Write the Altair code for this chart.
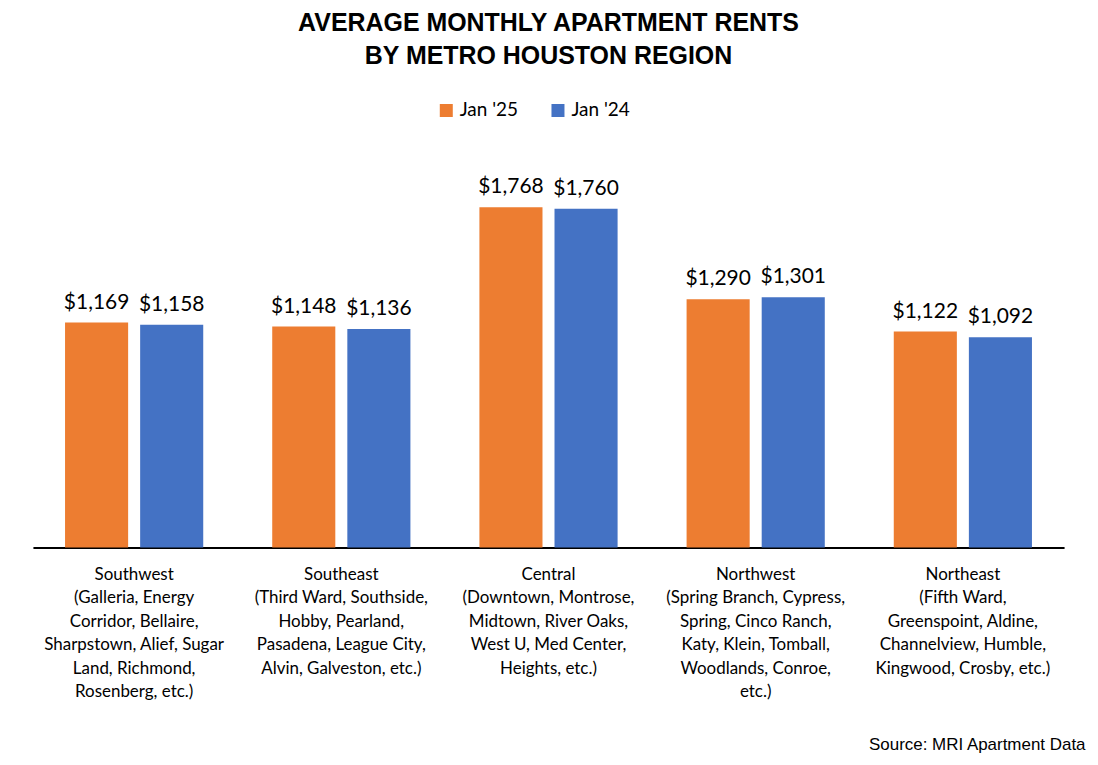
import altair as alt
import pandas as pd

# Order as it appears in the reference, left to right
region_labels = [
    "Southwest|(Galleria, Energy|Corridor, Bellaire,|Sharpstown, Alief, Sugar|Land, Richmond,|Rosenberg, etc.)",
    "Southeast|(Third Ward, Southside,|Hobby, Pearland,|Pasadena, League City,|Alvin, Galveston, etc.)",
    "Central|(Downtown, Montrose,|Midtown, River Oaks,|West U, Med Center,|Heights, etc.)",
    "Northwest|(Spring Branch, Cypress,|Spring, Cinco Ranch,|Katy, Klein, Tomball,|Woodlands, Conroe,|etc.)",
    "Northeast|(Fifth Ward,|Greenspoint, Aldine,|Channelview, Humble,|Kingwood, Crosby, etc.)",
]
periods = ["Jan '25", "Jan '24"]
jan25 = [1169, 1148, 1768, 1290, 1122]
jan24 = [1158, 1136, 1760, 1301, 1092]
colors = ["#ED7D31", "#4472C4"]

rows = []
for lab, v25, v24 in zip(region_labels, jan25, jan24):
    rows.append({"region": lab, "period": periods[0], "rent": v25})
    rows.append({"region": lab, "period": periods[1], "rent": v24})
df = pd.DataFrame(rows)

base = alt.Chart(df).encode(
    x=alt.X(
        "region:N",
        sort=region_labels,
        scale=alt.Scale(paddingInner=0.333, paddingOuter=0.155),
        axis=alt.Axis(
            title="Source: MRI Apartment Data",
            labelExpr="split(datum.value, '|')",
            labelAngle=0,
            labelFont="Lato",
            labelFontSize=17,
            labelLineHeight=23.5,
            labelPadding=19,
            labelColor="black",
            labelLimit=0,
            ticks=False,
            domainColor="black",
            domainWidth=2,
            titleFont="Liberation Sans",
            titleFontSize=17,
            titleFontWeight="normal",
            titleColor="black",
            titleAlign="right",
            titleBaseline="alphabetic",
            titleX=1055,
            titleY=203,
        ),
    ),
    xOffset=alt.XOffset("period:N", sort=periods, scale=alt.Scale(paddingInner=0.16)),
    y=alt.Y("rent:Q", scale=alt.Scale(domain=[0, 2000]), axis=None),
)

bars = base.mark_bar().encode(
    color=alt.Color(
        "period:N",
        sort=periods,
        scale=alt.Scale(domain=periods, range=colors),
        legend=alt.Legend(
            title=None,
            orient="none",
            legendX=405,
            legendY=-62,
            direction="horizontal",
            symbolType="square",
            symbolSize=170,
            symbolStrokeWidth=0,
            labelFont="Lato",
            labelFontSize=19,
            labelColor="black",
            columnPadding=30,
        ),
    )
)

labels = base.transform_calculate(
    label="'$' + format(datum.rent, ',')"
).mark_text(
    baseline="alphabetic", dy=-14, font="Lato", fontSize=21, color="black"
).encode(text="label:N")

chart = (
    alt.layer(bars, labels)
    .properties(
        width=1034,
        height=386,
        background="white",
        padding={"left": 25, "top": 2, "right": 5, "bottom": 0},
        title=alt.TitleParams(
            text=["AVERAGE MONTHLY APARTMENT RENTS", "BY METRO HOUSTON REGION"],
            font="Liberation Sans",
            fontSize=25,
            fontWeight="bold",
            color="black",
            lineHeight=33,
            anchor="middle",
            offset=32,
        ),
    )
    .configure_view(strokeWidth=0, stroke=None)
)

chart.save("out.html", embed_options={"renderer": "svg", "actions": False})
